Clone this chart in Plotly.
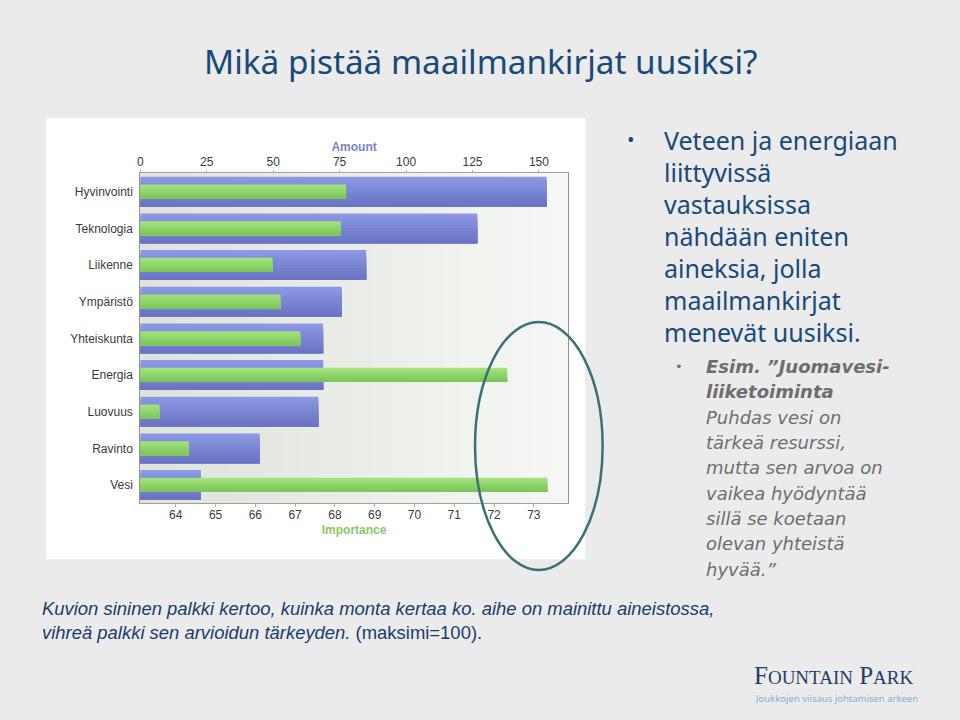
import plotly.graph_objects as go

# ---- data ----
categories = ["Hyvinvointi", "Teknologia", "Liikenne", "Ympäristö", "Yhteiskunta",
              "Energia", "Luovuus", "Ravinto", "Vesi"]
amount = [152.9, 126.8, 85.0, 75.8, 68.8, 68.8, 67.0, 44.9, 22.8]
importance = [68.28, 68.15, 66.43, 66.63, 67.13, 72.33, 63.59, 64.33, 73.34]
amount_ticks = [0, 25, 50, 75, 100, 125, 150]
importance_ticks = [64, 65, 66, 67, 68, 69, 70, 71, 72, 73]

title_text = "Mikä pistää maailmankirjat uusiksi?"
main_bullet = ["Veteen ja energiaan", "liittyvissä", "vastauksissa", "nähdään eniten",
               "aineksia, jolla", "maailmankirjat", "menevät uusiksi."]
sub_bullet = ["Esim. ”Juomavesi-", "liiketoiminta", "Puhdas vesi on", "tärkeä resurssi,",
              "mutta sen arvoa on", "vaikea hyödyntää", "sillä se koetaan",
              "olevan yhteistä", "hyvää.”"]
caption = ["Kuvion sininen palkki kertoo, kuinka monta kertaa ko. aihe on mainittu aineistossa,",
           "vihreä palkki sen arvioidun tärkeyden. <span style='font-style:normal'>(maksimi=100).</span>"]

W, H = 960, 720
def px(x): return x / W
def py(y): return 1 - y / H

def lerp(c0, c1, t):
    return "rgb(%d,%d,%d)" % tuple(int(round(c0[k] + (c1[k] - c0[k]) * t)) for k in range(3))

fig = go.Figure()

def banded_bars(xvals, axis, width, ctop, cbot, nb, name):
    # vertical colour gradient emulated with layered bands (each covers the rest of the bar)
    bw = width / nb
    for b in range(nb):
        t = b / (nb - 1)
        fig.add_trace(go.Bar(y=categories, x=xvals, orientation="h", xaxis=axis, yaxis="y",
                             width=width - b * bw, offset=-width / 2 + b * bw,
                             marker=dict(color=lerp(ctop, cbot, t), line=dict(width=0)),
                             name=name, showlegend=False, hoverinfo="x+y"))

banded_bars(amount, "x", 0.81, (140, 152, 228), (106, 116, 194), 10, "Amount")
banded_bars(importance, "x2", 0.39, (160, 226, 124), (124, 198, 90), 6, "Importance")

plot_x0, plot_x1 = 137.7, 566.7
plot_y0, plot_y1 = 173.3, 503.3

tickfont = dict(family="Liberation Sans, Arial", size=12, color="#3a3a3a")

shapes = []
shapes.append(dict(type="rect", xref="paper", yref="paper", x0=px(43.3), x1=px(584),
                   y0=py(559.3), y1=py(118.3), fillcolor="white", line=dict(width=0), layer="below"))
n = 24
c0 = (223, 227, 218)
c1 = (246, 247, 244)
for i in range(n):
    t = i / (n - 1)
    shapes.append(dict(type="rect", xref="x domain", yref="y domain", x0=i / n, x1=(i + 1) / n + 0.002,
                       y0=0, y1=1, fillcolor=lerp(c0, c1, t), line=dict(width=0), layer="below"))
shapes.append(dict(type="circle", xref="paper", yref="paper", x0=px(473.5), x1=px(601.5),
                   y0=py(570), y1=py(322), line=dict(color="#3c7075", width=2.5)))

ann = []
ann.append(dict(text=title_text, x=px(479), y=py(61), xref="paper", yref="paper", showarrow=False,
                xanchor="center", yanchor="middle",
                font=dict(family="Noto Sans", size=33.3, color="#174a7c")))
ann.append(dict(text="•", x=px(630), y=py(140), xref="paper", yref="paper", showarrow=False,
                xanchor="center", yanchor="middle", font=dict(family="Noto Sans", size=20, color="#174a7c")))
for i, line in enumerate(main_bullet):
    ann.append(dict(text=line, x=px(661), y=py(140 + 31.95 * i), xref="paper", yref="paper",
                    showarrow=False, xanchor="left", yanchor="middle",
                    font=dict(family="Noto Sans", size=25, color="#174a7c")))
ann.append(dict(text="•", x=px(678), y=py(366.7), xref="paper", yref="paper", showarrow=False,
                xanchor="center", yanchor="middle", font=dict(family="DejaVu Sans", size=13, color="#707070")))
for i, line in enumerate(sub_bullet):
    txt = "<b><i>%s</i></b>" % line if i < 2 else "<i>%s</i>" % line
    ann.append(dict(text=txt, x=px(703), y=py(366.7 + 25.3 * i), xref="paper", yref="paper",
                    showarrow=False, xanchor="left", yanchor="middle",
                    font=dict(family="DejaVu Sans", size=18, color="#6e6e6e")))
for i, line in enumerate(caption):
    ann.append(dict(text="<i>%s</i>" % line, x=px(37), y=py(608 + 24 * i), xref="paper", yref="paper",
                    showarrow=False, xanchor="left", yanchor="middle",
                    font=dict(family="Liberation Sans, Arial", size=18.45, color="#183c6c")))
ann.append(dict(text="F<span style='font-size:19px'>OUNTAIN</span> P<span style='font-size:19px'>ARK</span>",
                x=px(751), y=py(675), xref="paper", yref="paper", showarrow=False,
                xanchor="left", yanchor="middle",
                font=dict(family="Liberation Serif, DejaVu Serif", size=25, color="#1f3d66")))
ann.append(dict(text="Joukkojen viisaus johtamisen arkeen", x=px(752), y=py(698), xref="paper", yref="paper",
                showarrow=False, xanchor="left", yanchor="middle",
                font=dict(family="Noto Sans", size=9.5, color="#7eb0d8")))

fig.update_layout(
    width=W, height=H,
    margin=dict(l=0, r=0, t=0, b=0),
    paper_bgcolor="#ebebeb",
    plot_bgcolor="rgba(0,0,0,0)",
    barmode="overlay",
    shapes=shapes,
    annotations=ann,
    xaxis=dict(domain=[px(plot_x0), px(plot_x1)], range=[0, 160.9], side="top", anchor="y",
               tickvals=amount_ticks, showgrid=False, zeroline=False,
               showline=True, linecolor="#a0a0a0", ticks="outside", ticklen=2, tickcolor="#aaaaaa",
               tickfont=tickfont, ticklabelstandoff=0,
               title=dict(text="<b>Amount</b>", font=dict(family="Liberation Sans, Arial", size=12, color="#7b84c2"),
                          standoff=0)),
    xaxis2=dict(domain=[px(plot_x0), px(plot_x1)], range=[63.108, 73.857], side="bottom", anchor="y",
                overlaying="x", tickvals=importance_ticks, showgrid=False, zeroline=False,
                showline=True, linecolor="#a0a0a0", ticks="outside", ticklen=3, tickcolor="#aaaaaa",
                tickfont=tickfont, ticklabelstandoff=-3,
                title=dict(text="<b>Importance</b>", font=dict(family="Liberation Sans, Arial", size=12, color="#8cc46a"),
                           standoff=4)),
    yaxis=dict(domain=[py(plot_y1), py(plot_y0)], autorange="reversed", type="category",
               showgrid=False, zeroline=False, showline=True, linecolor="#909090", mirror=True,
               ticks="", tickfont=tickfont, ticklabelstandoff=4),
)

fig.write_html("out.html")
